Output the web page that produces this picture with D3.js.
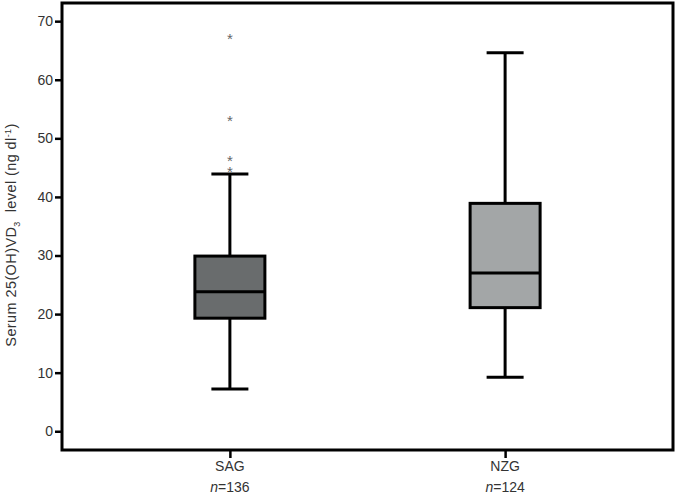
<!DOCTYPE html>
<html>
<head>
<meta charset="utf-8">
<script src="https://d3js.org/d3.v7.min.js"></script>
<style>
  body { margin: 0; background: #fff; }
  text { font-family: "Liberation Sans", Arial, sans-serif; }
</style>
</head>
<body>
<svg width="676" height="498"></svg>
<script>
// group data
var groups = ["SAG", "NZG"];
var counts = [136, 124];
var whiskLow = [7.2, 9.2];
var q1 = [19.3, 21.1];
var medians = [23.8, 27.0];
var q3 = [29.9, 38.9];
var whiskHigh = [43.9, 64.6];
var outliers = [[44.7, 46.6, 53.4, 67.4], []];
var fills = ["#696c6d", "#a3a6a7"];
var yTicks = [0, 10, 20, 30, 40, 50, 60, 70];

var svg = d3.select("svg");
var plotL = 62, plotR = 673, plotT = 3, plotB = 450;

var y = d3.scaleLinear().domain([-3.2, 73.1]).range([plotB, plotT]);
var x = d3.scalePoint().domain(groups).range([plotL, plotR]).padding(0.61);

var boxW = 70, capW = 37;

// y axis
var yAxis = svg.append("g")
  .attr("transform", "translate(" + plotL + ",0)")
  .call(d3.axisLeft(y).tickValues(yTicks).tickSize(7).tickPadding(2).tickSizeOuter(0));
yAxis.select(".domain").remove();
yAxis.selectAll(".tick line").attr("stroke", "#000").attr("stroke-width", 2.5);
yAxis.selectAll(".tick text").attr("fill", "#333").style("font-size", "14px");

// x axis
var xAxis = svg.append("g")
  .attr("transform", "translate(0," + plotB + ")")
  .call(d3.axisBottom(x).tickSize(8).tickSizeOuter(0).tickFormat(""));
xAxis.select(".domain").remove();
xAxis.selectAll(".tick line").attr("stroke", "#000").attr("stroke-width", 2.5);

groups.forEach(function(g, i) {
  svg.append("text")
    .attr("x", x(g)).attr("y", 471)
    .attr("text-anchor", "middle")
    .attr("fill", "#333").style("font-size", "14px")
    .text(g);
  var n = svg.append("text")
    .attr("x", x(g)).attr("y", 492)
    .attr("text-anchor", "middle")
    .attr("fill", "#333").style("font-size", "14px");
  n.append("tspan").style("font-style", "italic").text("n");
  n.append("tspan").text("=" + counts[i]);
});

// frame
svg.append("rect")
  .attr("x", plotL).attr("y", plotT)
  .attr("width", plotR - plotL).attr("height", plotB - plotT)
  .attr("fill", "none").attr("stroke", "#000").attr("stroke-width", 3);

// boxes
var bx = svg.append("g");
groups.forEach(function(g, i) {
  var cx = x(g);
  // whisker stem
  bx.append("line")
    .attr("x1", cx).attr("x2", cx)
    .attr("y1", y(whiskLow[i])).attr("y2", y(whiskHigh[i]))
    .attr("stroke", "#000").attr("stroke-width", 3);
  [whiskLow[i], whiskHigh[i]].forEach(function(v) {
    bx.append("line")
      .attr("x1", cx - capW / 2).attr("x2", cx + capW / 2)
      .attr("y1", y(v)).attr("y2", y(v))
      .attr("stroke", "#000").attr("stroke-width", 3);
  });
  bx.append("rect")
    .attr("x", cx - boxW / 2).attr("y", y(q3[i]))
    .attr("width", boxW).attr("height", y(q1[i]) - y(q3[i]))
    .attr("fill", fills[i]).attr("stroke", "#000").attr("stroke-width", 3);
  bx.append("line")
    .attr("x1", cx - boxW / 2).attr("x2", cx + boxW / 2)
    .attr("y1", y(medians[i])).attr("y2", y(medians[i]))
    .attr("stroke", "#000").attr("stroke-width", 3);
  outliers[i].forEach(function(v) {
    bx.append("text")
      .attr("x", cx).attr("y", y(v) + 8)
      .attr("text-anchor", "middle")
      .attr("fill", "#666").style("font-size", "15px")
      .text("*");
  });
});

// y title
var yt = svg.append("text")
  .attr("transform", "translate(16,235) rotate(-90)")
  .attr("text-anchor", "middle")
  .attr("fill", "#333").style("font-size", "14.5px")
  .style("letter-spacing", "0.4px");
yt.append("tspan").text("Serum 25(OH)VD");
yt.append("tspan").attr("dy", 4).style("font-size", "9px").text("3");
yt.append("tspan").attr("dy", -4).attr("dx", 9).text("level (ng dl");
yt.append("tspan").attr("dy", -5).style("font-size", "9px").text("-1");
yt.append("tspan").attr("dy", 5).text(")");
</script>
</body>
</html>
